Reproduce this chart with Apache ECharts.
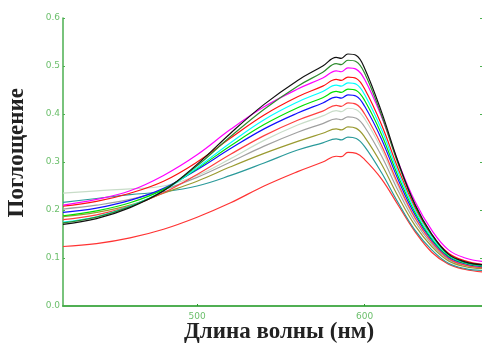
<!DOCTYPE html>
<html><head><meta charset="utf-8">
<script src="https://cdn.jsdelivr.net/npm/echarts@6/dist/echarts.min.js"></script>
<style>html,body{margin:0;padding:0;background:#fff}#c{width:482px;height:348px}</style>
</head><body><div id="c"></div>
<script>
const wavelengths = [420,440,460,480,500,520,540,560,575,583,586,590,595,600,610,620,630,640,650,660,670];
const xTicks = [500, 600];
const yTicks = [0.0,0.1,0.2,0.3,0.4,0.5,0.6];
const sBlack   = [.170,.182,.205,.240,.295,.360,.420,.470,.500,.518,.516,.525,.522,.495,.405,.300,.212,.150,.108,.092,.086];
const sDkGreen = [.173,.185,.207,.240,.292,.353,.410,.458,.487,.505,.503,.512,.509,.485,.398,.296,.210,.148,.107,.091,.085];
const sMagenta = [.210,.222,.240,.272,.315,.368,.415,.452,.475,.490,.488,.496,.493,.472,.395,.300,.218,.158,.117,.100,.093];
const sRed     = [.208,.218,.235,.260,.300,.350,.398,.436,.458,.472,.470,.477,.474,.452,.378,.286,.206,.148,.110,.094,.087];
const sCyan    = [.175,.186,.208,.240,.288,.340,.388,.425,.447,.460,.458,.465,.462,.440,.368,.278,.200,.143,.106,.090,.084];
const sLime    = [.188,.198,.215,.243,.286,.334,.378,.413,.434,.447,.445,.452,.449,.428,.358,.270,.195,.140,.104,.089,.083];
const sBlue    = [.195,.204,.220,.245,.284,.328,.369,.402,.423,.435,.433,.440,.437,.416,.348,.263,.190,.137,.102,.088,.082];
const sRed2    = [.180,.190,.208,.236,.274,.316,.355,.387,.406,.418,.416,.423,.420,.400,.335,.254,.184,.133,.099,.085,.080];
const sPale    = [.235,.240,.244,.250,.272,.307,.345,.377,.396,.407,.405,.412,.409,.390,.327,.249,.182,.133,.100,.087,.082];
const sGray    = [.202,.210,.222,.242,.268,.300,.333,.362,.380,.390,.388,.394,.391,.373,.313,.240,.176,.129,.097,.085,.080];
const sOlive   = [.186,.195,.210,.235,.260,.290,.318,.343,.360,.369,.367,.373,.370,.352,.296,.228,.168,.124,.094,.082,.078];
const sTeal    = [.216,.224,.232,.238,.250,.272,.298,.325,.340,.348,.346,.352,.349,.332,.278,.215,.158,.117,.089,.078,.074];
const sRedLow  = [.124,.130,.142,.160,.185,.215,.250,.280,.300,.312,.311,.320,.318,.305,.265,.210,.155,.112,.087,.076,.071];

const seriesList = [
  [sRedLow,'#ff3333'],[sTeal,'#2a9a9a'],[sOlive,'#9a9a30'],[sGray,'#a0a0a0'],[sPale,'#c8dcc8'],
  [sRed2,'#ff4040'],[sBlue,'#1010ff'],[sLime,'#00e000'],[sCyan,'#00ffff'],[sRed,'#ff1010'],
  [sMagenta,'#ff00ff'],[sDkGreen,'#2e8b2e'],[sBlack,'#111111']
];

const chart = echarts.init(document.getElementById('c'));
const green = '#4caf50';
chart.setOption({
  animation:false,
  grid:{left:63,right:0,top:18,bottom:42},
  xAxis:[{
    type:'value',min:420,max:670,
    axisLine:{lineStyle:{color:'#2e9a2e',width:1.5}},
    axisTick:{show:true,inside:true,length:2,customValues:xTicks,lineStyle:{color:'#2e9a2e'}},
    axisLabel:{customValues:xTicks,color:'#6cbf6c',fontSize:9,fontFamily:'DejaVu Sans',margin:6},
    splitLine:{show:false}
  },{
    type:'value',min:420,max:670,position:'top',
    axisLine:{show:true,lineStyle:{color:green,width:1.5}},
    axisTick:{show:false},axisLabel:{show:false},splitLine:{show:false}
  }],
  yAxis:[{
    type:'value',min:0,max:0.6,interval:0.1,
    axisLine:{show:true,lineStyle:{color:green,width:1.5}},
    axisTick:{show:true,inside:true,length:2,lineStyle:{color:green}},
    axisLabel:{color:'#6cbf6c',fontSize:9,fontFamily:'DejaVu Sans',margin:3,formatter:v=>v.toFixed(1)},
    splitLine:{show:false}
  },{
    type:'value',min:0,max:0.6,interval:0.1,position:'right',
    axisLine:{show:false},
    axisTick:{show:true,inside:true,length:2,lineStyle:{color:green}},
    axisLabel:{show:false},splitLine:{show:false}
  }],
  graphic:[
    {type:'text',left:6,top:88,rotation:Math.PI/2,
     style:{text:'Поглощение',font:'bold 23px "Liberation Serif"',fill:'#222'}},
    {type:'text',left:184,top:321,
     style:{text:'Длина волны (нм)',font:'bold 23px "Liberation Serif"',fill:'#222'}}
  ],
  series:seriesList.map(([vals,col])=>({
    type:'line',smooth:0.4,showSymbol:false,
    data:wavelengths.map((w,i)=>[w,vals[i]]),
    lineStyle:{color:col,width:1.2}
  }))
});
</script></body></html>
